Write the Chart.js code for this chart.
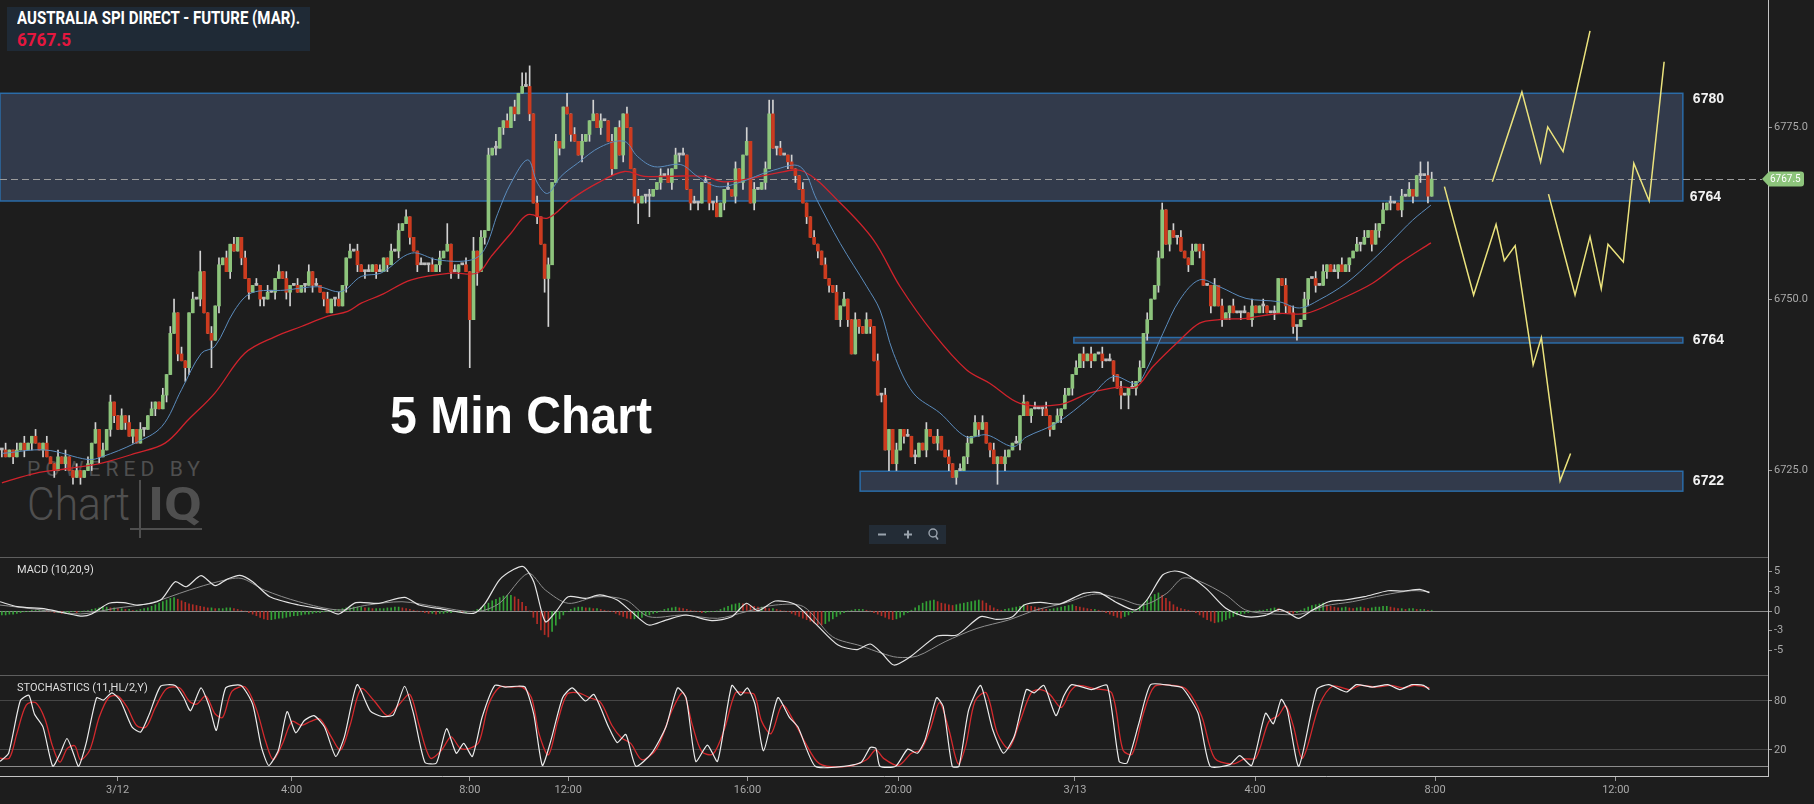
<!DOCTYPE html>
<html>
<head>
<meta charset="utf-8">
<script src="https://cdn.jsdelivr.net/npm/chart.js@4.4.1/dist/chart.umd.min.js"></script>
<style>
  html, body { margin: 0; padding: 0; background: #1d1d1d; width: 1814px; height: 804px; overflow: hidden; }
  canvas { position: absolute; left: 0; z-index: 1; }
  .abs { position: absolute; white-space: nowrap; }
  .logo { color: #4f4f4f; font-family: Roboto, sans-serif; z-index: 0; }
</style>
</head>
<body>
<!-- watermark sits behind the canvases -->
<div class="abs logo" id="powered" style="left:27px;top:459px;font-size:21px;line-height:21px;letter-spacing:5px;transform-origin:0 0;">POWERED BY</div>
<div class="abs logo" id="lgChart" style="left:27px;top:481px;font-size:46px;line-height:46px;font-weight:300;transform-origin:0 0;">Chart</div>
<div class="abs logo" id="lgIQ" style="left:148px;top:481px;font-size:46px;line-height:46px;font-weight:bold;transform-origin:0 0;">IQ</div>
<div class="abs" style="left:139px;top:480px;width:2px;height:58px;background:#4f4f4f;z-index:0;"></div>
<div class="abs" style="left:130px;top:528px;width:72px;height:2px;background:#4f4f4f;z-index:0;"></div>

<canvas id="main" width="1814" height="557" style="top:0px"></canvas>
<canvas id="macd" width="1814" height="118" style="top:557px"></canvas>
<canvas id="stoch" width="1814" height="129" style="top:675px"></canvas>

<div class="abs" style="left:7px;top:7px;width:303px;height:44px;background:#1f2a36;z-index:2;">
  <span class="abs" id="tName" style="left:10px;top:2px;font:bold 18px/18px Roboto,sans-serif;color:#ffffff;transform-origin:0 0;">AUSTRALIA SPI DIRECT - FUTURE (MAR).</span>
  <span class="abs" id="tPrice" style="left:10px;top:24px;font:bold 18px/18px Roboto,sans-serif;color:#e5173f;transform-origin:0 0;">6767.5</span>
</div>
<div class="abs" id="note" style="left:390px;top:389px;font:bold 52px/52px 'Liberation Sans',Arial,sans-serif;color:#ffffff;z-index:2;transform-origin:0 0;">5 Min Chart</div>
<div class="abs" style="left:869px;top:525px;width:77px;height:19px;background:#232c36;z-index:2;">
  <svg width="77" height="19" style="position:absolute;left:0;top:0">
    <rect x="9" y="8.5" width="8" height="2" fill="#9aa3ad"/>
    <rect x="35" y="8.5" width="8" height="2" fill="#9aa3ad"/>
    <rect x="38" y="5.5" width="2" height="8" fill="#9aa3ad"/>
    <circle cx="64" cy="8" r="4" stroke="#9aa3ad" stroke-width="1.4" fill="none"/>
    <line x1="66.5" y1="11" x2="69" y2="14.5" stroke="#9aa3ad" stroke-width="1.6"/>
  </svg>
</div>

<script>
// ---- price data (5 min bars, index 0 = first bar on screen) ----
const firstOpen = 6728;
const closes = [
  6728,6727,6728,6727,6728,6729,6728,6729,6730,6729,
  6728,6729,6727,6726,6725,6727,6726,6727,6725,6724,
  6725,6724,6725,6726,6729,6731,6727,6728,6731,6735,
  6733,6731,6733,6732,6730,6731,6729,6731,6731,6733,
  6734,6735,6734,6736,6739,6745,6748,6742,6741,6740,
  6748,6750,6750,6754,6748,6745,6744,6749,6755,6756,
  6754,6758,6757,6759,6756,6753,6751,6752,6752,6750,
  6750,6751,6751,6753,6754,6753,6751,6752,6752,6751,
  6752,6752,6754,6752,6752,6751,6750,6748,6750,6750,
  6749,6752,6756,6757,6757,6755,6754,6754,6754,6755,
  6754,6754,6756,6755,6757,6757,6760,6761,6762,6759,
  6757,6755,6755,6755,6755,6754,6755,6756,6757,6758,
  6754,6754,6755,6755,6754,6747,6757,6754,6759,6760,
  6771,6772,6772,6775,6776,6775,6778,6777,6780,6781,
  6781,6777,6764,6762,6758,6753,6755,6767,6773,6772,
  6778,6777,6774,6773,6771,6773,6774,6776,6777,6775,
  6776,6776,6773,6769,6775,6771,6777,6775,6769,6765,
  6764,6765,6765,6765,6766,6767,6768,6768,6767,6769,
  6771,6771,6771,6766,6764,6764,6764,6767,6767,6764,
  6764,6762,6764,6766,6766,6765,6769,6767,6771,6773,
  6764,6766,6766,6767,6769,6777,6772,6772,6771,6771,
  6770,6769,6768,6766,6764,6762,6759,6758,6757,6755,
  6753,6752,6751,6747,6749,6750,6747,6742,6747,6746,
  6745,6747,6746,6741,6736,6736,6728,6731,6726,6728,
  6731,6730,6730,6727,6727,6729,6728,6731,6730,6729,
  6730,6728,6727,6726,6724,6725,6725,6727,6729,6730,
  6732,6731,6732,6729,6728,6726,6727,6726,6727,6728,
  6729,6729,6733,6735,6733,6734,6734,6734,6734,6733,
  6731,6732,6733,6734,6736,6737,6739,6740,6742,6741,
  6742,6741,6742,6742,6741,6741,6741,6739,6737,6736,
  6736,6737,6737,6738,6740,6745,6747,6750,6752,6756,
  6763,6758,6760,6759,6759,6757,6756,6755,6757,6758,
  6757,6752,6752,6749,6752,6749,6747,6748,6749,6748,
  6748,6748,6748,6747,6749,6748,6749,6749,6748,6748,
  6748,6753,6752,6749,6748,6746,6746,6747,6750,6753,
  6753,6752,6752,6754,6755,6754,6754,6755,6754,6755,
  6756,6757,6758,6758,6759,6760,6758,6760,6761,6763,
  6764,6764,6764,6763,6765,6765,6766,6765,6768,6768,
  6768,6765,6767.5
];
// wick length above / below the body, in points
const upperWick = [
  0,1,0,0,1,0,1,0,0,1, 0,0,1,0,0,1,0,1,0,0, 1,0,0,1,0,1,0,1,0,1, 0,0,1,0,1,0,0,1,0,0,
  1,0,0,1,0,1,2,0,1,0, 0,1,0,3,0,0,1,0,1,0, 1,0,1,0,0,1,0,0,1,0, 0,1,0,0,1,0,1,0,0,1,
  0,0,1,0,1,0,0,1,0,0, 1,0,0,1,0,1,0,0,1,0, 0,1,0,0,1,0,1,0,1,0, 0,0,1,0,0,1,0,1,0,3,
  0,1,0,0,1,0,2,0,1,0, 1,0,1,0,0,1,0,1,0,2, 2,3,0,1,0,0,1,0,1,0, 0,2,0,1,0,1,0,0,2,0,
  1,0,0,1,0,1,0,1,0,0, 1,0,0,1,0,0,1,0,1,0, 1,0,1,0,0,1,0,0,1,0, 0,1,0,0,1,0,1,0,0,2,
  0,1,0,0,1,2,2,0,1,0, 0,1,0,0,1,0,0,1,0,0, 1,0,0,1,0,1,0,0,1,0, 0,1,0,0,1,0,1,0,0,1,
  0,0,1,0,1,0,0,1,0,0, 1,0,0,1,0,0,1,0,1,0, 1,0,1,0,0,1,0,0,1,0, 0,1,0,1,0,0,1,0,0,1,
  0,0,1,0,1,0,0,1,0,1, 0,1,0,0,1,0,1,0,0,1, 0,0,1,0,1,0,1,0,0,1, 1,0,0,1,0,1,0,0,1,0,
  0,1,0,0,1,0,1,0,0,1, 0,0,1,0,1,0,0,1,0,0, 1,0,0,1,0,1,0,0,1,0, 0,1,0,1,0,0,1,0,1,0,
  0,0,1,0,1,0,0,1,0,1, 0,1,0,0,1,0,1,0,0,2, 0,2,1
];
const lowerWick = [
  1,0,0,1,0,0,1,0,1,0, 0,1,0,0,1,0,0,1,0,1, 0,1,0,0,1,0,1,0,0,1, 1,0,0,1,0,1,0,0,1,0,
  0,1,0,0,1,0,0,1,0,2, 1,0,0,1,0,0,4,0,1,0, 0,1,0,0,1,0,1,0,0,1, 1,0,0,1,0,0,1,2,0,0,
  0,1,0,1,0,0,1,0,0,1, 0,0,1,0,0,1,0,1,0,0, 1,0,0,1,0,0,1,0,0,1, 0,1,0,0,1,0,0,1,0,0,
  1,0,1,0,0,7,0,2,0,1, 0,0,1,0,1,0,0,1,0,0, 0,1,0,1,0,2,7,0,0,1, 0,0,1,0,0,1,0,1,0,0,
  1,0,0,1,0,0,1,0,0,1, 3,0,1,3,0,0,1,0,0,1, 0,1,0,0,1,0,1,0,0,1, 1,0,0,1,0,0,1,0,1,0,
  0,1,0,0,1,0,0,1,0,0, 1,0,1,0,0,1,0,0,1,0, 0,1,0,0,1,0,1,0,0,1, 0,0,1,0,0,1,0,3,0,1,
  0,1,0,0,1,0,0,1,0,0, 1,0,0,1,0,1,0,0,1,0, 0,1,0,0,1,0,3,0,1,0, 0,0,1,0,0,1,0,0,1,0,
  1,0,0,1,0,0,1,0,0,1, 0,1,0,0,1,0,0,1,0,2, 0,2,0,1,0,0,1,0,0,1, 0,0,1,0,1,0,0,1,0,0,
  1,0,0,1,0,0,1,0,1,0, 0,1,0,0,1,0,0,1,0,0, 1,0,0,1,0,1,2,0,0,1, 0,1,0,0,1,0,0,1,0,0,
  1,0,0,1,0,0,1,0,1,0, 0,1,0,0,1,0,0,1,0,1, 0,1,0
];

// moving averages [bar index, price]
const maFast = [[0,6727.5],[11.6,6728],[23.1,6726.6],[26.7,6727],[35.6,6729],[42.7,6731.4],[48,6736.8],[53.3,6742.1],[56.9,6743.1],[62.2,6748.4],[66.7,6750.9],[75.6,6751.3],[84.4,6751.8],[90.7,6751.1],[96,6753.3],[101.3,6753.8],[109.4,6756.7],[116.5,6755.7],[125.4,6755.7],[128.9,6757.2],[132.5,6762.5],[136,6766.9],[140.5,6770.3],[143.1,6766.9],[145.8,6765.4],[149.4,6767.9],[153.8,6769.8],[160,6772.2],[166.3,6773],[169.8,6770.8],[174.3,6769.3],[181.4,6769.6],[185.8,6767.9],[191.1,6766.4],[196.5,6766.9],[206.2,6768.8],[213.3,6769.3],[217.7,6764.5],[224,6758.1],[231.1,6751.8],[234.6,6748.4],[238.2,6742.1],[243.5,6736.3],[250.6,6733.4],[257.7,6729.9],[263.1,6730.2],[270.2,6728.5],[273.7,6729.9],[281.7,6731.9],[290.6,6735.6],[296.9,6738.7],[303.1,6737.7],[305.8,6739.7],[310.2,6745],[314.7,6749.9],[320,6752.8],[325.3,6751.8],[332.4,6750.1],[341.3,6749.6],[346.7,6748.7],[352,6749.9],[359.1,6752.3],[366.2,6755.7],[371.6,6758.6],[376.9,6761.5],[381.8,6763.7]];
const maSlow = [[0,6723.2],[8.9,6724.6],[17.8,6725.3],[26.7,6726.1],[35.6,6727.5],[43.6,6729],[49.8,6732.4],[56.9,6736.3],[64.9,6742.1],[72.9,6744.5],[80,6746],[87.1,6747.5],[92.4,6748.2],[96,6749.4],[101.3,6750.6],[109.4,6752.8],[120,6753.8],[127.1,6753.8],[130.7,6756.2],[136,6759.6],[140.5,6762.3],[145.8,6761.8],[152,6764.5],[159.1,6766.9],[166.3,6768.6],[171.6,6767.9],[178.7,6767.9],[187.6,6767.9],[192.9,6767.1],[200,6767.6],[206.2,6768.3],[214.2,6768.6],[224,6764],[232.9,6758.6],[240,6751.8],[248.9,6745],[257.7,6739.7],[264,6737.7],[272,6734.8],[282.6,6734.6],[290.6,6736.3],[298.6,6737.2],[303.1,6737.2],[307.6,6740.2],[314.7,6744],[320,6746.5],[325.3,6747],[332.4,6747.2],[341.3,6747.9],[348.4,6747.9],[357.3,6749.9],[366.2,6752.3],[373.3,6755.2],[381.8,6758.2]];

// hand-drawn projection paths [bar index, price]
const pathUp = [[398.2,6767.1],[406.1,6780.2],[411.1,6770],[413,6775.1],[417.1,6771.5],[424.3,6789.1]];
const pathDown = [[385.4,6766.4],[393.2,6750.6],[399.2,6760.9],[401.4,6755.6],[404.3,6757.8],[409.1,6740.4],[411.3,6744.4],[416.3,6723.5],[419.1,6727.5]];
const pathSwing = [[413.2,6765.3],[420.3,6750.6],[424.3,6759.1],[427.3,6751.5],[429.1,6758],[433.2,6755.4],[436,6769.8],[440.1,6764.3],[444.1,6784.6]];

// support / resistance zones
const zoneHigh = [6780, 6744.4, 6724.9];
const zoneLow = [6764.3, 6743.6, 6722];
const zoneStart = [-0.5, 286.4, 229.3];
const zoneEnd = 449.1;
const zoneText = ['6780', '6764', '6764', '6722'];
const lastPrice = 6767.5;

// MACD (10,20,9)
const macdLine = [[-0.5,1.18],[4.1,0.55],[11.8,0.25],[21,-0.64],[24,-0.38],[28.6,0.98],[32.5,1.06],[36.3,0.76],[42.4,1.4],[46.3,3.73],[49.3,3.09],[53.2,4.49],[57,3.22],[60.1,4.03],[63.6,4.54],[67,3.73],[71.6,1.82],[79.3,0.76],[86.9,0.13],[90,-0.38],[94.6,1.06],[100.7,0.98],[107.6,1.74],[111.5,0.76],[117.6,0.25],[126,-0.3],[129.1,0.98],[132.9,3.94],[136.8,5.3],[139.4,5.64],[142.1,3.73],[145.2,-1.36],[148,-0.08],[151.3,1.82],[155.9,1.61],[159.8,2.04],[164.4,1.4],[168.2,-0.08],[172.8,-1.78],[177.4,-1.15],[182.8,-0.51],[189.7,-1.23],[195,-0.72],[198.9,0.98],[202,0.04],[206.6,1.27],[211.9,0.85],[217.3,-1.57],[223.4,-4.33],[228.5,-4.9],[232,-4.2],[235.1,-5.38],[238.3,-6.87],[242.5,-5.89],[249.9,-3.18],[255.2,-3.05],[261.5,-0.72],[265.7,-1.06],[270,-0.72],[273.1,0.76],[277.4,1.1],[282.6,0.89],[289,2.25],[293.2,2.33],[297.4,1.18],[302.7,0.13],[305.9,1.4],[310.1,4.58],[313.3,5.09],[316.4,4.71],[321.7,2.88],[327,0.34],[332.3,-0.72],[337.6,-0.55],[341.3,0.21],[343.9,-0.3],[346.5,-0.93],[350.2,0.13],[354.5,1.18],[358.7,1.4],[364,1.82],[370.3,2.58],[374.5,2.54],[378.8,2.75],[381.4,2.33]];
const macdSignal = [[-0.5,0.76],[8.7,0.25],[21,-0.38],[30.2,0.34],[39.4,0.98],[50.1,2.67],[57.8,3.73],[63.9,4.16],[70.1,2.67],[79.3,1.18],[90,0.13],[97.7,0.76],[106.9,1.18],[116.1,0.55],[126.8,-0.08],[132.9,0.98],[140.6,4.79],[145.2,2.67],[151.3,0.98],[159,1.82],[166.7,1.4],[172.8,-0.72],[182,-0.51],[191.2,-0.93],[198.9,-0.08],[206.6,0.76],[214.2,0.55],[221.9,-3.27],[229.6,-4.45],[235.1,-5.38],[239.3,-5.89],[244.6,-5.72],[252,-3.9],[260.5,-2.21],[268.9,-1.15],[276.3,0.13],[283.7,0.98],[292.1,2.16],[298.5,1.61],[304.8,0.76],[311.2,2.25],[315.4,4.16],[319.6,3.86],[327,2.04],[332.3,0.13],[339.7,-0.38],[347.1,-0.38],[353.4,0.64],[360.8,1.18],[369.3,2.04],[376.7,2.58],[381.4,2.46]];
const macdHist = [
  -0.5,-0.5,-0.4,-0.4,-0.3,-0.2,-0.1,-0.1,0.1,0.1,
  0.1,0.1,0,-0.1,-0.2,-0.2,-0.3,-0.3,-0.2,-0.1,
  -0.2,-0.1,0,0.1,0.2,0.3,0.4,0.5,0.5,0.4,
  0.4,0.3,0.3,0.2,0.2,0.1,0.1,0.2,0.3,0.4,
  0.6,0.8,1.0,1.2,1.4,1.6,1.7,1.5,1.3,1.1,
  0.9,0.8,0.7,0.6,0.5,0.4,0.4,0.3,0.3,0.3,
  0.4,0.4,0.3,0.2,0.1,0,-0.2,-0.4,-0.6,-0.8,
  -1.0,-1.1,-1.1,-1.0,-0.9,-0.9,-0.8,-0.7,-0.6,-0.6,
  -0.5,-0.4,-0.4,-0.3,-0.2,-0.2,-0.1,0,0.1,0.2,
  0.2,0.3,0.4,0.4,0.5,0.5,0.5,0.4,0.4,0.3,
  0.3,0.3,0.3,0.4,0.4,0.5,0.5,0.4,0.3,0.2,
  0.1,0,-0.1,-0.2,-0.3,-0.3,-0.4,-0.3,-0.3,-0.2,
  -0.2,-0.1,-0.1,-0.2,-0.2,-0.1,0,0.2,0.4,0.7,
  1.0,1.3,1.5,1.7,1.9,2.0,2.0,1.8,1.5,1.1,
  0.6,0,-0.8,-1.6,-2.4,-3.0,-3.3,-2.6,-1.8,-1.0,
  -0.5,-0.1,0.2,0.4,0.5,0.5,0.4,0.4,0.3,0.3,
  0.2,0.1,0,-0.1,-0.3,-0.5,-0.7,-0.9,-1.0,-1.0,
  -0.9,-0.8,-0.6,-0.5,-0.3,-0.2,0,0.2,0.3,0.4,
  0.5,0.4,0.3,0.2,0.1,0,-0.1,-0.2,-0.2,-0.1,
  -0.1,0,0.2,0.4,0.6,0.8,0.9,1.0,0.9,0.8,
  0.7,0.6,0.5,0.5,0.4,0.3,0.3,0.2,0.1,0,
  -0.1,-0.3,-0.5,-0.7,-0.9,-1.1,-1.3,-1.5,-1.7,-1.8,
  -1.6,-1.3,-1.0,-0.7,-0.4,-0.2,0,0.1,0.2,0.2,
  0.2,0.1,0,-0.2,-0.4,-0.6,-0.8,-1.0,-1.1,-1.0,
  -0.8,-0.5,-0.2,0.1,0.4,0.7,1.0,1.2,1.3,1.4,
  1.2,1.0,0.9,0.8,0.7,0.8,0.9,1.0,1.1,1.2,
  1.3,1.4,1.3,1.0,0.7,0.4,0.2,0.1,0.2,0.3,
  0.4,0.5,0.6,0.8,0.7,0.6,0.5,0.4,0.3,0.2,
  0.2,0.3,0.4,0.5,0.6,0.7,0.8,0.6,0.5,0.4,
  0.3,0.2,0.2,0.1,0,-0.2,-0.4,-0.6,-0.8,-0.9,
  -0.7,-0.5,-0.2,0.2,0.6,1.0,1.4,1.8,2.1,2.3,
  2.0,1.6,1.2,0.8,0.5,0.3,0.2,0.1,0,-0.2,
  -0.5,-0.8,-1.1,-1.3,-1.5,-1.4,-1.3,-1.1,-0.9,-0.7,
  -0.5,-0.4,-0.3,-0.2,-0.1,0,0.1,0.1,0.2,0.3,
  0.4,0.3,0.1,-0.1,-0.2,-0.3,-0.2,0.1,0.3,0.5,
  0.7,0.8,0.9,1.0,0.8,0.6,0.5,0.4,0.4,0.5,
  0.4,0.3,0.4,0.5,0.4,0.3,0.4,0.5,0.5,0.6,
  0.6,0.5,0.4,0.3,0.3,0.2,0.3,0.3,0.2,0.2,
  0.2,0.1,0.1
];

// Stochastics (11,HL/2,Y)
const stochK = [[-0.5,6],[1.8,16],[4.9,80],[7.2,87],[8.7,64],[11,48],[13.6,0],[15.6,16],[17.4,34],[19.1,16],[20.5,0],[22.5,28],[25.3,84],[27.1,81],[29.4,90],[31.7,80],[34.8,48],[37.1,42],[39.4,64],[42.4,98],[46.3,99],[48.6,84],[50.4,68],[53.2,96],[55.5,72],[57.3,44],[59.8,96],[63.9,99],[67,76],[69.3,24],[71.3,1],[73.9,20],[76.2,67],[78.5,41],[80.8,56],[83.4,62],[86.2,48],[89.2,12],[91.5,36],[94.9,100],[98.4,68],[101.5,61],[104.6,63],[107.6,98],[110,64],[113,5],[116.1,4],[118.8,46],[121.4,16],[123.4,28],[125.7,12],[128.3,60],[131.7,99],[134.5,97],[137.5,98],[139.8,97],[142.1,64],[144.4,1],[146.7,32],[149.8,84],[152.4,96],[155.9,80],[158.2,88],[162.1,48],[164.4,29],[166.7,39],[169.4,0],[173.6,16],[177.4,48],[180.5,96],[182.8,84],[185.4,6],[188.5,26],[191.2,6],[195,99],[197.4,87],[199.2,96],[201.2,76],[203.5,19],[207.3,84],[210.4,60],[212.7,48],[217.3,0],[225,0],[229.6,5],[232,23],[233.5,22],[234.6,0],[238.8,0],[242,21],[244.6,16],[246.7,33],[249.7,84],[251.5,73],[253.9,0],[255.7,0],[258.3,69],[261.5,99],[264.7,45],[267.6,16],[270.5,37],[273.7,94],[275.8,90],[278.4,99],[281.6,62],[283.7,86],[285.8,100],[291.1,94],[295.3,99],[298.5,6],[300.6,4],[303.8,53],[306.9,100],[312.2,99],[315.4,96],[319.6,65],[322.8,0],[328.1,2],[330.7,13],[333.9,1],[337.6,65],[339.7,52],[341.8,82],[343.4,69],[346.5,0],[351.3,94],[354.5,100],[359.2,91],[361.9,100],[366.1,97],[370.3,100],[373.5,94],[376.7,100],[379.8,99],[381.4,94]];
const stochD = [[-0.5,10],[2,10],[4,40],[6.5,75],[9,78],[11.5,58],[13.5,25],[15.5,5],[17.5,22],[19.5,25],[21,8],[23.5,20],[26,60],[28.5,84],[31,86],[33.5,72],[36,50],[38.5,48],[41,72],[44,95],[47.5,96],[50,80],[52,76],[54.5,86],[57,64],[59,60],[61.5,92],[65,97],[68,70],[70.5,30],[72.5,8],[75,28],[77.5,55],[80,50],[82.5,55],[85,58],[88,36],[90.5,20],[93,50],[96,95],[99.5,80],[103,62],[106,75],[109,88],[111.5,50],[114.5,10],[117.5,20],[120,36],[122.5,22],[125,22],[127.5,30],[130,75],[133,97],[136,97],[139,97],[141.5,84],[143.5,40],[146,14],[148.5,55],[151,88],[154,90],[157,84],[160,78],[163,50],[165.5,35],[168,28],[171,8],[175,22],[179,68],[182,90],[184.5,50],[187,18],[190,15],[193,45],[196,90],[198.5,90],[201,88],[203,55],[205.5,40],[208.5,75],[211.5,56],[214.5,30],[218.5,3],[226,0],[231,8],[233.5,20],[235.5,10],[239.5,1],[243,16],[245.5,20],[248,45],[250.5,78],[253,45],[255.5,3],[257.5,25],[260,80],[263,90],[266,40],[269,22],[272,55],[275,90],[277.5,94],[280,88],[283,72],[285.5,92],[287.5,99],[292,95],[296.5,90],[299.5,20],[302,15],[305,65],[308,98],[313,99],[316.5,94],[320.5,62],[324,10],[329,3],[332,9],[335,10],[338.5,55],[341,62],[343,74],[345,50],[347.5,10],[352,75],[355.5,98],[360,94],[363,99],[367,97],[371,99],[374.5,96],[377.5,99],[381.4,96]];

// axis ticks
const timeTickIdx = [30.9, 77.4, 125, 151.3, 199.2, 239.5, 286.7, 334.8, 382.9, 431.2];
const timeTickLabels = ['3/12', '4:00', '8:00', '12:00', '16:00', '20:00', '3/13', '4:00', '8:00', '12:00'];
const priceTicks = [6775, 6750, 6725];
const macdTicks = [5, 2.5, 0, -2.5, -5];
const macdTickLabels = ['5', '3', '0', '-3', '-5'];
const stochTicks = [80, 20];

// ---- chart setup ----
const UP = '#8dc47c', DOWN = '#cc3b1f', FLAT = '#bdbdbd';
const X_MIN = -0.5, X_MAX = 471.85;
Chart.defaults.font.family = 'Roboto';

const pts = arr => arr.map(([x, y]) => ({ x, y }));
const opens = closes.map((c, i) => (i === 0 ? firstOpen : closes[i - 1]));
const bodies = closes.map((c, i) => ({ x: i, y: [opens[i], c] }));
const wicks = closes.map((c, i) => ({
  x: i,
  y: [Math.min(opens[i], c) - lowerWick[i], Math.max(opens[i], c) + upperWick[i]]
}));
const bodyColors = closes.map((c, i) => (c > opens[i] ? UP : c < opens[i] ? DOWN : FLAT));
const histColors = macdHist.map((v, i) => (i > 0 && v < macdHist[i - 1] ? '#b42d26' : '#33a236'));

const baseOpts = {
  responsive: false,
  animation: false,
  devicePixelRatio: 1,
  events: [],
  plugins: { legend: { display: false }, tooltip: { enabled: false } },
};

const xHidden = { type: 'linear', min: X_MIN, max: X_MAX, offset: false, display: false, grid: { offset: false } };

function rightAxis(min, max, values, labelFn, gridOnArea) {
  return {
    position: 'right', min, max,
    afterBuildTicks: s => { s.ticks = values.map(v => ({ value: v })); },
    afterFit: s => { s.width = 46; s.paddingTop = 0; s.paddingBottom = 0; },
    ticks: { color: '#a9a9a9', font: { size: 11 }, padding: 2, callback: labelFn },
    grid: { drawOnChartArea: !!gridOnArea, color: '#464646', tickColor: '#9a9a9a', tickLength: 4 },
    border: { display: true, color: '#c4c4c4' },
  };
}

function hline(chart, yPix, color) {
  const { ctx, chartArea } = chart;
  const yy = Math.round(yPix) + 0.5;
  ctx.save();
  ctx.strokeStyle = color;
  ctx.lineWidth = 1;
  ctx.beginPath();
  ctx.moveTo(chartArea.left, yy);
  ctx.lineTo(chartArea.right, yy);
  ctx.stroke();
  ctx.restore();
}

const lineDs = (data, color, width, tension) => ({
  type: 'line', data: pts(data), borderColor: color, borderWidth: width,
  pointRadius: 0, tension: tension, fill: false
});

// main price pane
const mainDecor = {
  id: 'mainDecor',
  beforeDatasetsDraw(chart) {
    const { ctx, scales: { x, y } } = chart;
    ctx.save();
    zoneHigh.forEach((hi, i) => {
      const x0 = x.getPixelForValue(zoneStart[i]);
      const x1 = x.getPixelForValue(zoneEnd);
      const y0 = y.getPixelForValue(hi);
      const y1 = y.getPixelForValue(zoneLow[i]);
      ctx.fillStyle = '#323a4b';
      ctx.fillRect(x0, y0, x1 - x0, y1 - y0);
      ctx.strokeStyle = '#2b6ca8';
      ctx.lineWidth = 1.5;
      ctx.strokeRect(x0, y0, x1 - x0, y1 - y0);
    });
    const yp = Math.round(y.getPixelForValue(lastPrice)) + 0.5;
    ctx.setLineDash([7, 4]);
    ctx.strokeStyle = '#9c9c9c';
    ctx.lineWidth = 1;
    ctx.beginPath();
    ctx.moveTo(0, yp);
    ctx.lineTo(1762, yp);
    ctx.stroke();
    ctx.restore();
  },
  afterDraw(chart) {
    const { ctx, scales: { x, y } } = chart;
    ctx.save();
    ctx.fillStyle = '#f2f2f2';
    ctx.font = 'bold 14px "Liberation Sans", Arial, sans-serif';
    ctx.textBaseline = 'middle';
    const lx = x.getPixelForValue(zoneEnd) + 10;
    ctx.fillText(zoneText[0], lx, y.getPixelForValue(zoneHigh[0]) + 6);
    ctx.fillText(zoneText[1], lx - 3, y.getPixelForValue(zoneLow[0]) - 4);
    ctx.fillText(zoneText[2], lx, (y.getPixelForValue(zoneHigh[1]) + y.getPixelForValue(zoneLow[1])) / 2);
    ctx.fillText(zoneText[3], lx, (y.getPixelForValue(zoneHigh[2]) + y.getPixelForValue(zoneLow[2])) / 2);
    // last price tag
    const yp = y.getPixelForValue(lastPrice);
    ctx.fillStyle = '#8dc47c';
    ctx.beginPath();
    ctx.moveTo(1762, yp);
    ctx.lineTo(1769, yp - 7.5);
    ctx.lineTo(1801, yp - 7.5);
    ctx.quadraticCurveTo(1804, yp - 7.5, 1804, yp - 4.5);
    ctx.lineTo(1804, yp + 4.5);
    ctx.quadraticCurveTo(1804, yp + 7.5, 1801, yp + 7.5);
    ctx.lineTo(1769, yp + 7.5);
    ctx.closePath();
    ctx.fill();
    ctx.fillStyle = '#ffffff';
    ctx.font = '10px Roboto';
    ctx.fillText(lastPrice.toFixed(1), 1770, yp + 0.5);
    ctx.restore();
  }
};

new Chart(document.getElementById('main'), {
  type: 'bar',
  data: {
    datasets: [
      lineDs(pathUp, '#ebe37d', 1.5, 0),
      lineDs(pathDown, '#ebe37d', 1.5, 0),
      lineDs(pathSwing, '#ebe37d', 1.5, 0),
      lineDs(maFast, '#5b8cbd', 1, 0.35),
      lineDs(maSlow, '#d0232c', 1.3, 0.35),
      { type: 'bar', data: bodies, backgroundColor: bodyColors, barThickness: 3, grouped: false, minBarLength: 2, borderWidth: 0 },
      { type: 'bar', data: wicks, backgroundColor: '#d2d2d2', barThickness: 1, grouped: false, borderWidth: 0 },
    ]
  },
  options: Object.assign({}, baseOpts, {
    scales: {
      x: xHidden,
      y: rightAxis(6712.4, 6793.6, priceTicks, v => v.toFixed(1), false),
    }
  }),
  plugins: [mainDecor]
});

const panelDecor = title => ({
  id: 'panelDecor',
  beforeDatasetsDraw(chart) {
    hline(chart, chart.scales.y.getPixelForValue(0), '#8c8c8c');
  },
  afterDraw(chart) {
    hline(chart, 0, '#5e5e5e');
    const ctx = chart.ctx;
    ctx.save();
    ctx.fillStyle = '#dedede';
    ctx.font = '11px Roboto';
    ctx.textBaseline = 'middle';
    ctx.fillText(title, 17, 13);
    ctx.restore();
  }
});

// MACD pane
new Chart(document.getElementById('macd'), {
  type: 'bar',
  data: {
    datasets: [
      lineDs(macdLine, '#e4e4e4', 1.2, 0.25),
      lineDs(macdSignal, '#8e8e8e', 1, 0.3),
      { type: 'bar', data: macdHist.map((v, i) => ({ x: i, y: v })), backgroundColor: histColors, barThickness: 1, grouped: false, borderWidth: 0 },
    ]
  },
  options: Object.assign({}, baseOpts, {
    scales: {
      x: xHidden,
      y: rightAxis(-8.14, 6.87, macdTicks, (v, i) => macdTickLabels[i], false),
    }
  }),
  plugins: [panelDecor('MACD (10,20,9)')]
});

// Stochastics pane (carries the time axis)
new Chart(document.getElementById('stoch'), {
  type: 'line',
  data: {
    datasets: [
      lineDs(stochK, '#ececec', 1.2, 0.2),
      lineDs(stochD, '#d42a2e', 1.3, 0.3),
    ]
  },
  options: Object.assign({}, baseOpts, {
    scales: {
      x: {
        type: 'linear', min: X_MIN, max: X_MAX, offset: false, position: 'bottom',
        afterBuildTicks: s => { s.ticks = timeTickIdx.map(v => ({ value: v })); },
        afterFit: s => { s.height = 28; s.paddingLeft = 0; s.paddingRight = 0; },
        ticks: { color: '#a9a9a9', font: { size: 11 }, padding: 3, autoSkip: false, maxRotation: 0, callback: (v, i) => timeTickLabels[i] },
        grid: { offset: false, drawOnChartArea: false, tickColor: '#9a9a9a', tickLength: 5 },
        border: { display: true, color: '#c4c4c4' },
      },
      y: rightAxis(-11.9, 111.8, stochTicks, v => String(v), true),
    }
  }),
  plugins: [panelDecor('STOCHASTICS (11,HL/2,Y)')]
});

// squeeze the condensed-looking texts to their measured widths
function fitWidth(id, w) {
  const el = document.getElementById(id);
  el.style.transform = 'scaleX(' + (w / el.getBoundingClientRect().width) + ')';
}
fitWidth('tName', 283);
fitWidth('tPrice', 54);
fitWidth('note', 262);
fitWidth('powered', 178);
fitWidth('lgChart', 103);
fitWidth('lgIQ', 54);
</script>
</body>
</html>
